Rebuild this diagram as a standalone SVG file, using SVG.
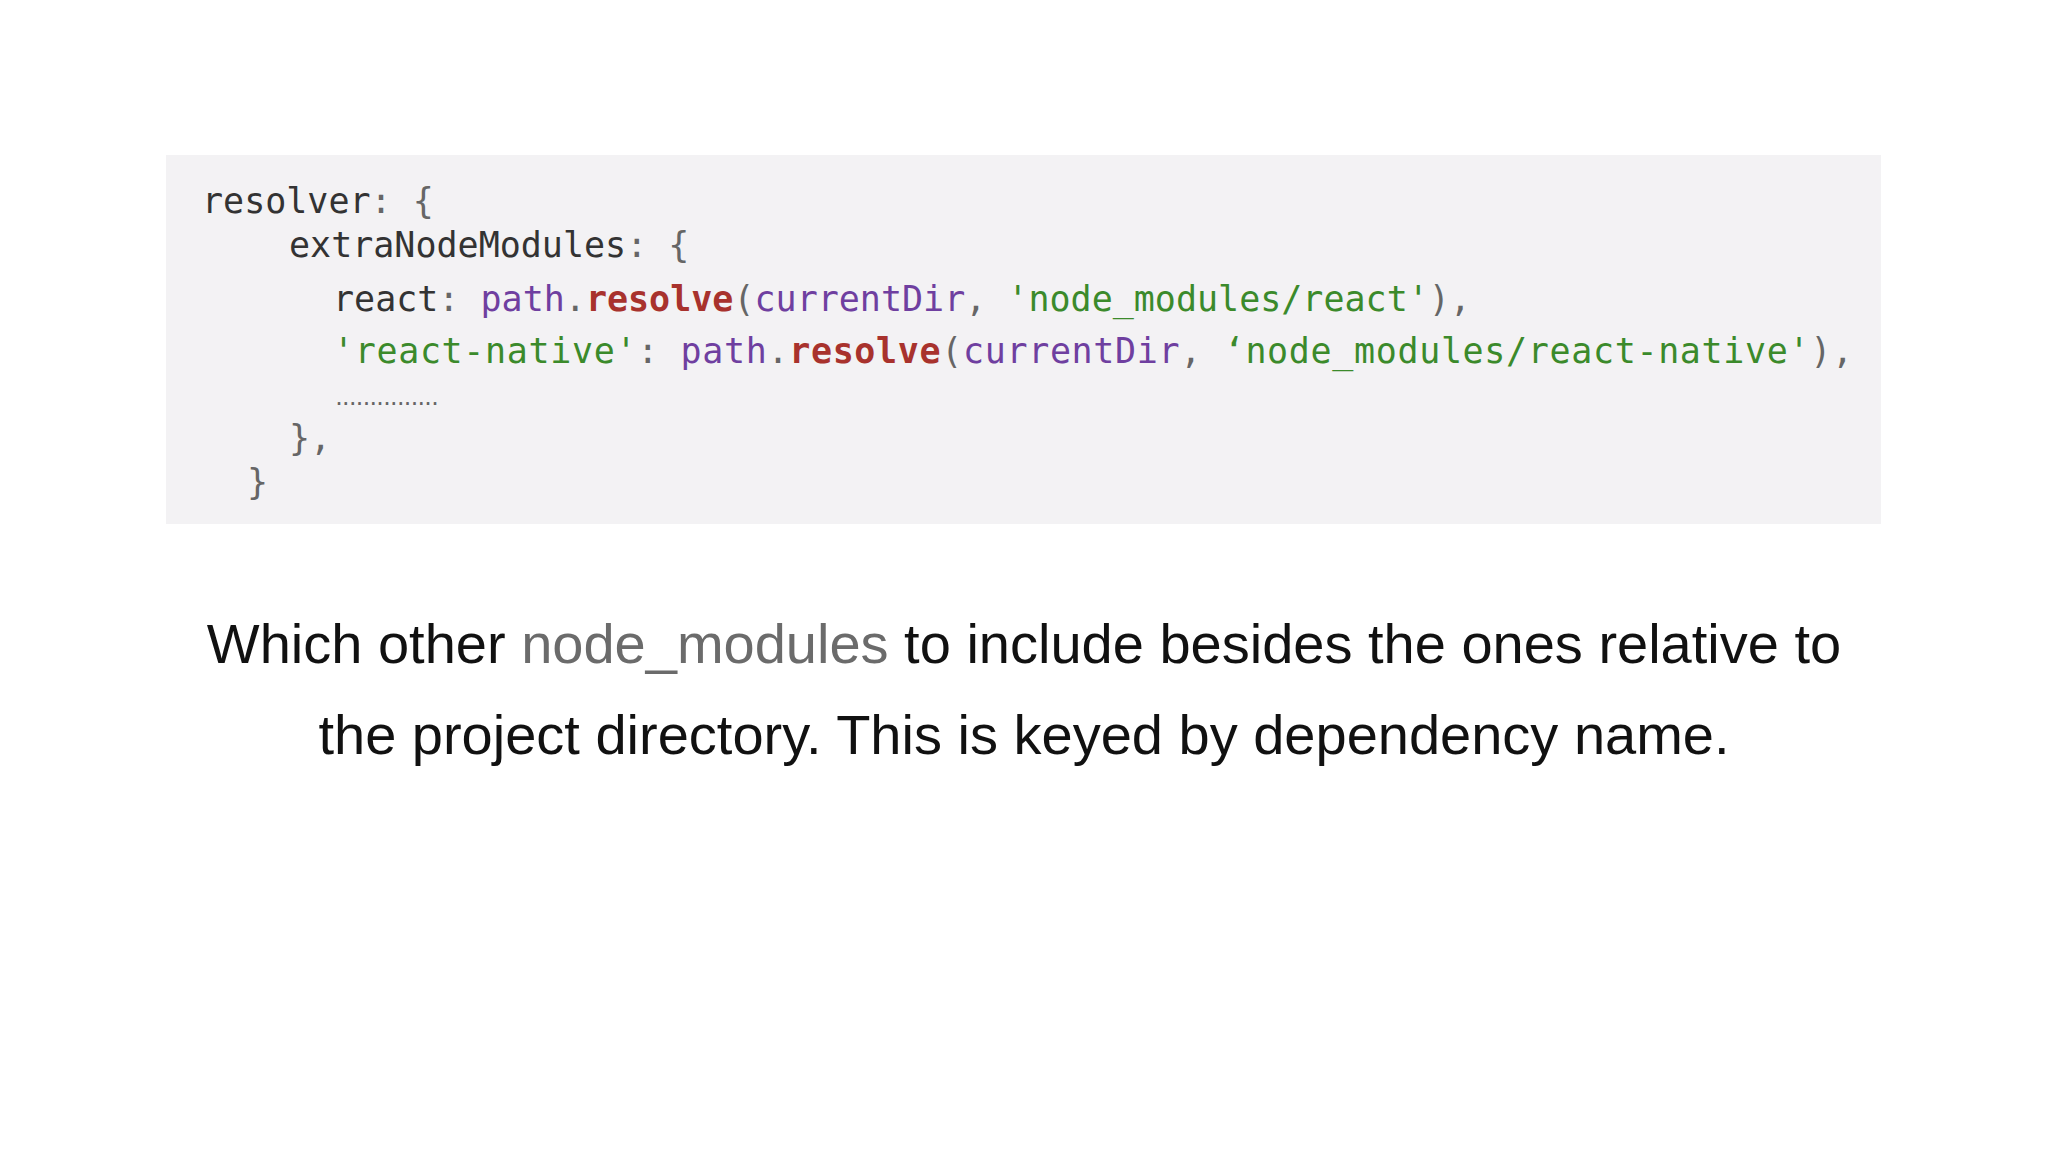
<svg xmlns="http://www.w3.org/2000/svg" width="2048" height="1152" viewBox="0 0 2048 1152">
<style>
.c{font-family:"DejaVu Sans Mono","Liberation Mono",monospace;font-size:35px;fill:#333}
.p{fill:#666}.v{fill:#6f3fa0}.r{fill:#a8322d;font-weight:bold}.s{fill:#3b8a2b}
.t{font-family:"Helvetica","Liberation Sans",Arial,sans-serif;font-size:56px;fill:#111;text-anchor:middle}
</style>
<rect width="2048" height="1152" fill="#fff"/>
<g id="code">
<rect x="166" y="155" width="1715" height="369" fill="#f3f2f4"/>
<text class="c" x="202" y="213">resolver<tspan class="p">: {</tspan></text>
<text class="c" x="289" y="257">extraNodeModules<tspan class="p">: {</tspan></text>
<text class="c" x="333" y="311">react<tspan class="p">: </tspan><tspan class="v">path</tspan><tspan class="p">.</tspan><tspan class="r">resolve</tspan><tspan class="p">(</tspan><tspan class="v">currentDir</tspan><tspan class="p">, </tspan><tspan class="s">'node_modules/react'</tspan><tspan class="p">),</tspan></text>
<text class="c" x="333" y="363" textLength="1520"><tspan class="s">'react-native'</tspan><tspan class="p">: </tspan><tspan class="v">path</tspan><tspan class="p">.</tspan><tspan class="r">resolve</tspan><tspan class="p">(</tspan><tspan class="v">currentDir</tspan><tspan class="p">, </tspan><tspan class="s">‘node_modules/react-native'</tspan><tspan class="p">),</tspan></text>
<text class="c p" x="333" y="405" style="font-size:20px" textLength="108">...............</text>
<text class="c p" x="289" y="450">},</text>
<text class="c p" x="247" y="494">}</text>
</g>
<g id="caption">
<text class="t" x="1024" y="663">Which other <tspan fill="#6b6b6b">node_modules</tspan> to include besides the ones relative to</text>
<text class="t" x="1024" y="754">the project directory. This is keyed by dependency name.</text>
</g>
</svg>
